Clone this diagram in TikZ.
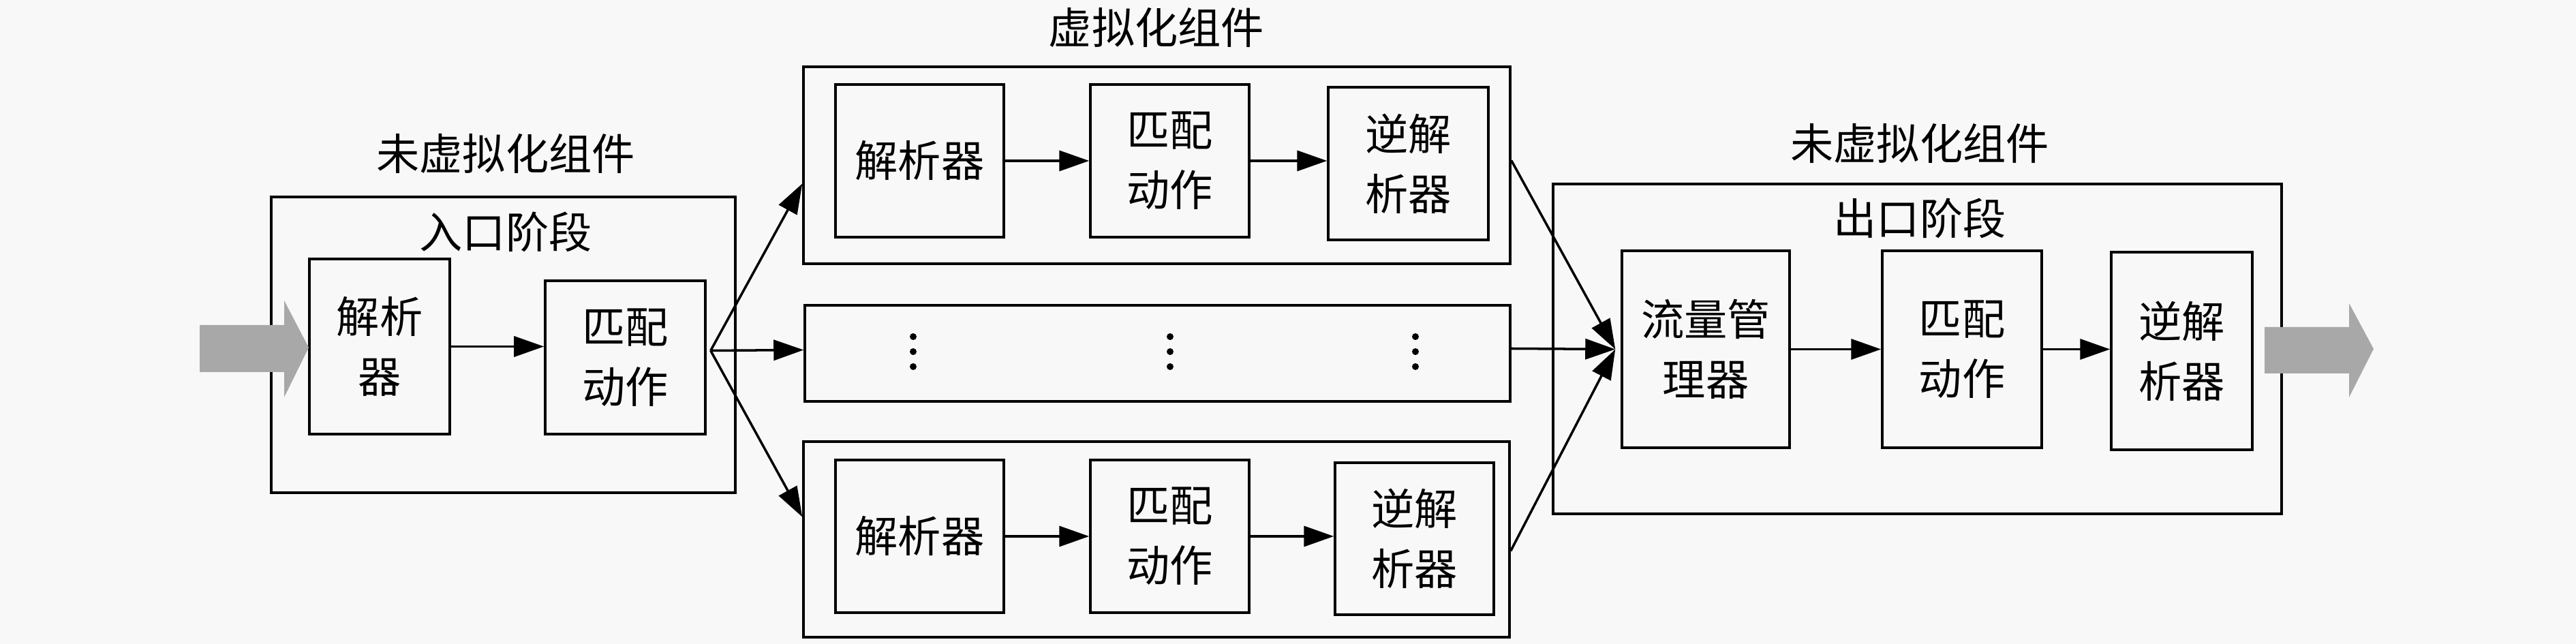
\documentclass[tikz,border=0pt]{standalone}
\usepackage{fontspec}
\newfontfamily\cjk{Noto Sans CJK SC}
\usepackage{tikz}
\usetikzlibrary{arrows.meta}
\definecolor{bgcol}{RGB}{248,248,248}
\definecolor{fatgray}{RGB}{168,168,168}

\begin{document}
\begin{tikzpicture}[font=\cjk\fontsize{18}{25}\selectfont,
  line width=1pt, >={Triangle[length=4.4mm,width=3mm]},
  frame/.style={draw,inner sep=0pt},
  blk/.style={draw,align=center,inner sep=0pt},
  fatarrow/.style={fill=fatgray}]
\useasboundingbox (0,0) rectangle (37.8,-9.45);
\fill[bgcol] (0,0) rectangle (37.8,-9.45);
% ingress
\node[frame,minimum width=6.81cm,minimum height=4.34cm] (ingress) at (7.385,-5.06) {};
\node (inlabel) at (7.42,-2.25) {未虚拟化组件};
\node (instage) at (7.42,-3.40) {入口阶段};
\node[blk,minimum width=2.06cm,minimum height=2.57cm] (inparser) at (5.57,-5.085) {解析\\器};
\node[blk,minimum width=2.35cm,minimum height=2.25cm] (inmatch) at (9.175,-5.245) {匹配\\动作};
\draw[->] (inparser.east) -- (inparser.east -| inmatch.west);
% virtualized
\node (vlabel) at (16.97,-0.40) {虚拟化组件};
\begin{scope}[shift={(0,-2.425)}]
\node[frame,minimum width=10.37cm,minimum height=2.89cm] (vup) at (16.975,0) {};
\node[blk,minimum width=2.47cm,minimum height=2.24cm] (vup1) at (13.495,0.065) {解析器};
\node[blk,minimum width=2.33cm,minimum height=2.24cm] (vup2) at (17.165,0.065) {匹配\\动作};
\node[blk,minimum width=2.35cm,minimum height=2.24cm] (vup3) at (20.665,0.025) {逆解\\析器};
\draw[->] (vup1) -- (vup2);
\draw[->] (vup2.east) -- (vup2.east -| vup3.west);
\end{scope}
\node[frame,minimum width=10.35cm,minimum height=1.41cm] (vmid) at (16.985,-5.185) {};
\foreach \x in {13.40,17.17,20.77}
  \foreach \y in {-4.94,-5.16,-5.38}
    \fill (\x,\y) circle (0.05);
\begin{scope}[shift={(0,-7.915)}]
\node[frame,minimum width=10.36cm,minimum height=2.87cm] (vlo) at (16.97,0) {};
\node[blk,minimum width=2.47cm,minimum height=2.24cm] (vlo1) at (13.495,0.045) {解析器};
\node[blk,minimum width=2.33cm,minimum height=2.24cm] (vlo2) at (17.165,0.045) {匹配\\动作};
\node[blk,minimum width=2.33cm,minimum height=2.23cm] (vlo3) at (20.755,0.01) {逆解\\析器};
\draw[->] (vlo1) -- (vlo2);
\draw[->] (vlo2.east) -- (vlo2.east -| vlo3.west);
\end{scope}
% egress
\node[frame,minimum width=10.69cm,minimum height=4.84cm] (egress) at (28.135,-5.12) {};
\node (outlabel) at (28.17,-2.10) {未虚拟化组件};
\node (outstage) at (28.17,-3.20) {出口阶段};
\node[blk,minimum width=2.46cm,minimum height=2.89cm] (tm) at (25.03,-5.125) {流量管\\理器};
\node[blk,minimum width=2.34cm,minimum height=2.89cm] (egmatch) at (28.79,-5.125) {匹配\\动作};
\node[blk,minimum width=2.07cm,minimum height=2.90cm] (egdeparser) at (32.015,-5.15) {逆解\\析器};
\draw[->] (tm) -- (egmatch);
\draw[->] (egmatch.east) -- (egmatch.east -| egdeparser.west);
% fan out / merge
\coordinate (fan) at ([shift={(0.06,0.1)}]inmatch.east);
\draw[->] (fan) -- ([yshift=-0.27cm]vup.west);
\draw[->] (fan) -- ([yshift=0.05cm]vmid.west);
\draw[->] (fan) -- ([yshift=0.33cm]vlo.west);
\coordinate (merge) at ([xshift=-0.08cm]tm.west);
\draw[->] ([yshift=0.07cm]vup.east) -- (merge);
\draw[->] ([yshift=0.07cm]vmid.east) -- (merge);
\draw[->] ([yshift=-0.17cm]vlo.east) -- (merge);
% packet in / out
\fill[fatarrow] (2.93,-4.77) -- (4.17,-4.77) -- (4.17,-4.41) -- (4.53,-5.10)
  -- (4.17,-5.83) -- (4.17,-5.46) -- (2.93,-5.46) -- cycle;
\fill[fatarrow] (33.23,-4.80) -- (34.47,-4.80) -- (34.47,-4.45) -- (34.83,-5.12)
  -- (34.47,-5.83) -- (34.47,-5.48) -- (33.23,-5.48) -- cycle;
\end{tikzpicture}
\end{document}
